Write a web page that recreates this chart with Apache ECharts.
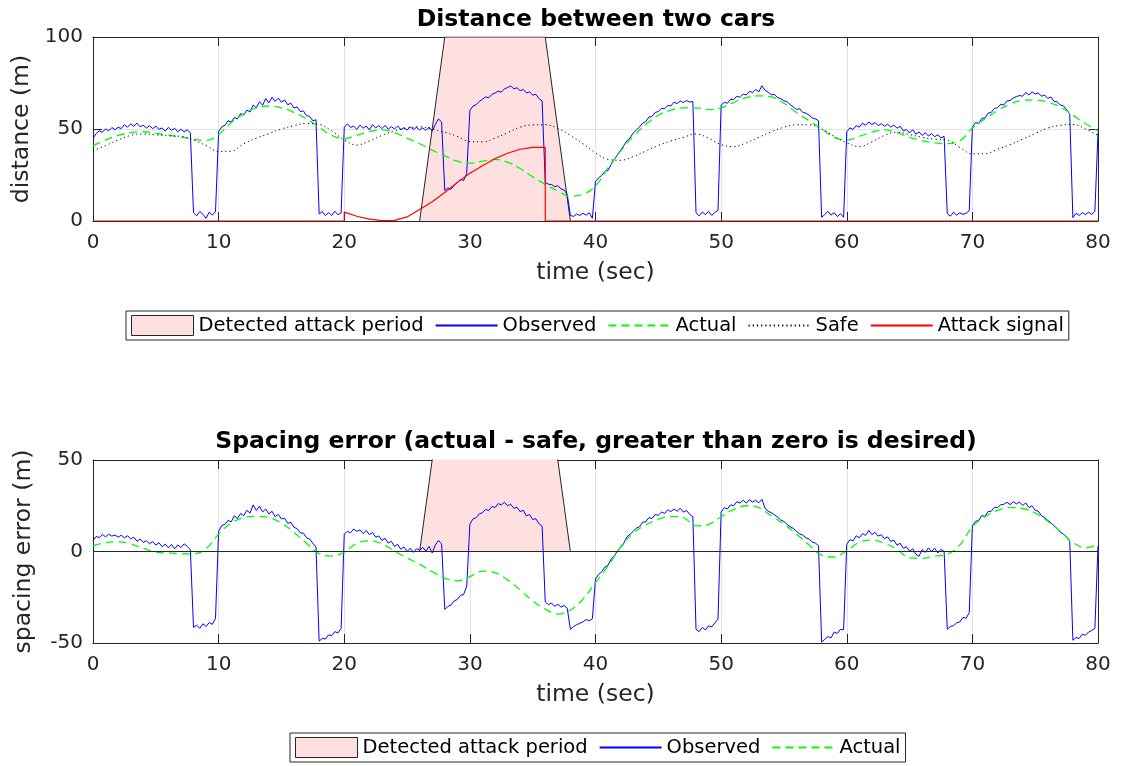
<!DOCTYPE html>
<html>
<head>
<meta charset="utf-8">
<script src="https://cdn.jsdelivr.net/npm/echarts@6/dist/echarts.min.js"></script>
<style>
  html, body { margin: 0; padding: 0; background: #fff; }
  #main { width: 1126px; height: 766px; }
</style>
</head>
<body>
<div id="main"></div>
<script>
var chartDom = document.getElementById('main');
var myChart = echarts.init(chartDom);
var option;

// observed signals, sampled every 0.25 s from 0 to 80 s
var fineStep = 0.25;
var obsDist = [
  45.0, 47.5, 49.0, 48.2, 50.1, 49.0, 50.8, 49.6,
  51.0, 50.2, 52.3, 51.0, 52.8, 51.5, 53.2, 51.2,
  52.0, 50.6, 51.8, 50.2, 51.5, 49.8, 50.6, 48.8,
  50.9, 49.3, 50.4, 48.5, 49.9, 48.4, 49.6, 47.8,
  4.5, 2.8, 5.2, 3.6, 1.5, 4.8, 3.2, 5.0,
  48.5, 51.2, 52.0, 54.5, 53.8, 56.2, 55.5, 58.4,
  57.6, 60.3, 59.2, 63.0, 61.5, 64.8, 62.9, 66.5,
  64.2, 67.3, 65.0, 66.8, 64.5, 65.8, 63.2, 64.0,
  61.4, 62.0, 59.5, 59.8, 57.2, 56.9, 54.5, 55.0,
  3.8, 5.1, 2.9, 4.6, 3.0, 5.3, 3.4, 4.4,
  51.0, 52.8, 50.9, 51.5, 49.8, 52.1, 50.4, 51.6,
  49.5, 52.4, 50.6, 51.9, 50.2, 52.0, 49.9, 51.3,
  50.0, 51.7, 49.6, 50.8, 49.4, 51.2, 49.8, 50.9,
  49.5, 50.6, 49.2, 51.0, 48.8, 52.5, 55.5, 53.8,
  16.5, 18.0, 17.2, 19.5, 20.8, 22.6, 22.0, 26.0,
  60.0, 62.5, 63.2, 65.0, 66.2, 67.4, 67.0, 68.8,
  69.5, 70.6, 70.0, 71.8, 72.5, 73.4, 71.8, 72.4,
  70.8, 71.5, 69.6, 70.2, 68.4, 68.9, 66.5, 65.2,
  21.0, 20.0, 19.8, 18.6, 19.2, 17.5, 16.8, 14.5,
  3.0, 2.5, 3.8, 3.0, 4.2, 3.2, 4.5, 1.5,
  21.5, 23.5, 24.8, 27.0, 27.5, 30.8, 33.5, 36.0,
  38.5, 41.0, 43.6, 45.2, 47.8, 49.5, 51.0, 53.2,
  54.0, 56.5, 56.8, 59.0, 59.5, 61.2, 61.0, 62.8,
  62.5, 64.6, 63.8, 65.2, 64.4, 65.5, 64.6, 65.0,
  4.5, 2.8, 4.9, 3.5, 5.2, 3.0, 4.6, 5.8,
  63.0, 64.5, 64.0, 66.2, 66.0, 67.8, 67.2, 69.0,
  68.5, 70.5, 69.8, 71.5, 70.2, 73.5, 71.0, 70.0,
  68.6, 68.8, 67.0, 66.5, 65.4, 64.8, 63.2, 62.0,
  60.6, 61.0, 59.0, 58.6, 57.5, 56.0, 55.5, 54.5,
  2.0, 3.5, 5.2, 3.2, 4.6, 2.4, 4.0, 2.0,
  48.5, 50.6, 49.8, 51.8, 51.0, 53.2, 52.0, 53.8,
  52.5, 53.5, 51.8, 52.9, 51.5, 52.6, 51.0, 52.2,
  50.4, 51.5, 49.0, 49.8, 47.8, 49.6, 47.2, 48.4,
  46.5, 48.0, 46.2, 47.5, 45.8, 46.9, 45.2, 46.0,
  4.0, 2.6, 4.8, 3.2, 4.5, 3.6, 4.2, 5.6,
  51.0, 53.5, 53.0, 55.8, 56.0, 58.6, 59.0, 61.2,
  61.5, 63.4, 63.0, 65.2, 65.5, 66.8, 67.6, 68.2,
  67.8, 69.8, 68.5, 70.2, 69.0, 69.6, 67.8, 68.5,
  66.6, 67.4, 65.0, 64.8, 63.0, 62.6, 60.5, 58.0,
  1.8, 4.2, 3.0, 4.6, 3.4, 4.8, 3.6, 5.2,
  48.0
];
var obsErr = [
  6.0, 8.2, 7.6, 9.3, 8.0, 9.5, 8.4, 9.0,
  7.8, 8.9, 7.5, 8.6, 6.9, 7.8, 5.6, 6.8,
  5.0, 5.9, 4.2, 5.4, 3.5, 4.8, 2.6, 4.0,
  2.0, 3.8, 1.5, 3.6, 2.2, 4.2, 2.8, 1.0,
  -41.5, -40.2, -42.0, -39.5, -41.0, -38.8, -39.8, -36.5,
  11.0, 14.2, 14.8, 17.0, 16.2, 19.5, 18.0, 20.8,
  19.6, 22.5, 21.0, 25.5, 22.4, 24.8, 21.6, 23.2,
  20.5, 22.0, 19.0, 20.3, 17.8, 18.2, 15.4, 16.0,
  13.2, 12.5, 10.2, 10.0, 7.5, 6.8, 4.5, 2.5,
  -49.0, -47.5, -47.8, -45.6, -46.0, -43.8, -44.5, -42.0,
  9.5, 11.0, 10.2, 12.3, 11.0, 11.8, 9.8, 11.5,
  9.2, 10.4, 7.8, 8.5, 6.0, 7.2, 4.6, 5.5,
  2.8, 3.9, 1.2, 2.5, 0.0, 1.8, -0.5, 1.5,
  0.8, 2.2, 0.2, 2.8, -0.8, 3.5, 6.0, 4.2,
  -31.6, -30.0, -29.2, -27.0, -26.2, -24.0, -23.5, -19.0,
  15.0, 17.8, 18.5, 20.6, 21.2, 23.0, 22.4, 24.6,
  24.0, 26.2, 25.5, 26.9, 25.0, 25.8, 23.6, 24.2,
  21.8, 22.5, 19.5, 20.2, 17.5, 17.9, 15.2, 13.8,
  -27.5, -29.0, -28.2, -30.0, -28.8, -30.4, -29.5, -31.0,
  -42.5, -41.0, -40.0, -39.2, -38.5, -37.2, -37.8, -36.8,
  -15.0, -12.5, -11.0, -8.5, -7.5, -4.0, -2.5, 0.5,
  2.0, 4.5, 8.0, 9.5, 11.0, 12.8, 13.5, 16.0,
  16.2, 18.5, 18.0, 20.2, 19.8, 21.5, 20.8, 22.8,
  21.8, 23.2, 22.0, 23.6, 21.5, 22.4, 20.2, 19.0,
  -42.5, -43.8, -41.5, -42.8, -40.6, -41.2, -39.0, -37.0,
  21.5, 24.0, 23.2, 25.5, 25.0, 27.2, 26.5, 28.0,
  26.5, 28.3, 27.0, 28.0, 26.6, 28.5, 23.5, 22.0,
  21.2, 20.0, 18.8, 17.2, 16.4, 14.8, 13.5, 12.6,
  11.0, 9.6, 9.0, 7.5, 6.8, 5.2, 4.6, 3.2,
  -49.5, -48.0, -46.5, -47.2, -44.0, -44.8, -42.5, -42.8,
  4.0, 6.5, 5.8, 8.6, 7.5, 9.8, 8.8, 11.5,
  9.2, 10.5, 8.4, 9.2, 7.0, 8.0, 5.5, 6.2,
  3.5, 4.5, 1.8, 2.6, 0.2, 1.5, -1.5, -2.6,
  1.0, -0.5, 2.0, 0.0, 1.8, -0.8, 1.2, 0.0,
  -42.5, -41.0, -40.5, -39.0, -38.5, -36.0, -36.5, -33.4,
  14.0, 16.5, 17.0, 19.6, 19.2, 21.8, 22.0, 24.2,
  24.0, 25.5, 25.8, 26.9, 25.6, 27.2, 26.0, 27.0,
  25.2, 26.5, 24.0, 25.0, 22.5, 22.0, 19.5, 18.6,
  17.0, 15.8, 14.0, 12.6, 10.5, 9.6, 7.8, 5.5,
  -48.5, -47.0, -47.5, -45.2, -45.8, -44.0, -43.2, -42.0,
  3.0
];

// smooth signals, one value per second from 0 to 80 s
var actDist = [
  40.8, 44, 46.5, 48, 48.5, 47.7, 46.7, 45.6, 44.5, 43.8,
  47, 53.5, 58.2, 61.5, 62.5, 61.5, 59, 55.5, 51, 46.5,
  44.8, 46.5, 48.6, 49.5, 48, 45, 42, 38.5, 35.5, 32.5,
  31.4, 32.5, 33.5, 32, 28.5, 24, 20, 16.3, 13.5, 14.5,
  19, 29, 38, 46, 52.5, 57.5, 60.3, 61.5, 61.5, 60.5,
  61.5, 64.5, 67, 68, 67.5, 64, 59, 54.5, 50, 45.5,
  44, 46, 48.3, 49.5, 48, 45.5, 43.6, 42.5, 42, 43.5,
  50.5, 55.5, 60, 63.5, 65.5, 65.8, 64.5, 62, 57.5, 53,
  49
];
var safeDist = [
  38.2, 41, 44, 46.5, 47.3, 46.8, 46.3, 46, 44, 41,
  37.8, 38, 42, 45, 47.5, 50, 51.8, 53, 52.5, 49,
  44, 41.3, 43.5, 46.5, 49, 50.5, 51.2, 50, 48.2, 46,
  43.2, 43, 45, 48, 51, 52.2, 52.3, 50.3, 46.5, 42,
  37, 33.5, 33, 35, 38, 41, 43.5, 45.5, 47.3, 45,
  41.5, 40.4, 42.5, 45.5, 48.5, 51, 52.3, 52.3, 50, 46,
  42.5, 40.4, 43, 46.5, 48.3, 47, 45.5, 44.5, 44, 40,
  36.5, 36.5, 39, 41.5, 44.5, 47.5, 50.5, 52, 52.5, 50,
  46.5
];
var actErr = [
  3.1, 4.8, 5.3, 4.2, 1.8, -0.3, -0.8, -1.2, -1.3, 1.5,
  9.5, 15.5, 18.5, 19.2, 18.5, 15.5, 10.5, 4.5, -1.2, -2.5,
  -0.3, 4.5, 5.8, 4.2, 0.2, -3.5, -7, -11, -14.5, -16,
  -13.7, -10.7, -11.5, -15.5, -21, -27, -31.5, -34.2, -32, -26,
  -17, -8, 2.5, 10, 14.5, 17.5, 19.2, 18.5, 14, 14.8,
  19, 23, 25, 24, 19.5, 15, 9.5, 3.5, -2, -3,
  0.5, 5, 6.2, 4.5, 1.2, -3.5, -3.8, -2.5, -1.5, 3.5,
  13.5, 19, 22.5, 24, 23.5, 21, 16.5, 11, 5, 2,
  4
];

// attack signal (time, value)
var atkT = [0, 20, 20, 21, 22, 23, 24, 25, 26, 27, 28, 29, 30, 31, 32, 33, 34, 35, 36, 36, 80];
var atkV = [0, 0, 4.8, 2.6, 1.0, 0.2, 0.3, 2.2, 6.2, 10.5, 15.5, 21, 26, 30, 33.8, 36.8, 39, 40, 40, 0, 0];

// detected attack period patch
var patchT = [26, 28, 36, 38];
var patchV = [0, 100, 100, 0];

function fine(arr) {
  return arr.map(function (v, i) { return [i * fineStep, v]; });
}
function perSecond(arr) {
  return arr.map(function (v, i) { return [i, v]; });
}
function pairs(xs, ys) {
  return xs.map(function (x, i) { return [x, ys[i]]; });
}

var FONT = 'DejaVu Sans';
var AX = '#262626';
var GRIDC = '#e3e3e3';
var PINK = '#ffe0e0';

function xAx(gridIndex, top) {
  return {
    type: 'value', gridIndex: gridIndex, min: 0, max: 80, interval: 10,
    position: top ? 'top' : 'bottom',
    name: top ? '' : 'time (sec)',
    nameLocation: 'middle', nameGap: 40,
    nameTextStyle: { fontFamily: FONT, fontSize: 23.5, color: AX },
    axisLine: { show: true, onZero: false, lineStyle: { color: AX, width: 1 } },
    axisTick: { show: true, inside: true, length: 9, lineStyle: { color: AX } },
    axisLabel: { show: !top, margin: 12, fontFamily: FONT, fontSize: 20, color: AX },
    splitLine: { show: !top, lineStyle: { color: GRIDC, width: 1 } }
  };
}
function yAx(gridIndex, right, min, max, name) {
  return {
    type: 'value', gridIndex: gridIndex, min: min, max: max, interval: 50,
    position: right ? 'right' : 'left',
    name: right ? '' : name,
    nameLocation: 'middle', nameGap: 57,
    nameTextStyle: { fontFamily: FONT, fontSize: 23.5, color: AX },
    axisLine: { show: true, onZero: false, lineStyle: { color: AX, width: 1 } },
    axisTick: { show: true, inside: true, length: 9, lineStyle: { color: AX } },
    axisLabel: { show: !right, margin: 10, fontFamily: FONT, fontSize: 20, color: AX },
    splitLine: { show: !right, lineStyle: { color: GRIDC, width: 1 } }
  };
}

function lineSeries(name, data, xi, yi, style, extra) {
  var s = {
    name: name, type: 'line', data: data,
    xAxisIndex: xi, yAxisIndex: yi,
    symbol: 'none', showSymbol: false,
    lineStyle: style, itemStyle: { color: style.color },
    emphasis: { disabled: true }, clip: true
  };
  for (var k in extra) s[k] = extra[k];
  return s;
}

var obsStyle = { color: '#0000ff', width: 1 };
var actStyle = { color: '#00ff00', width: 1.3, type: [8, 5] };
var safeStyle = { color: '#000000', width: 1, type: [1.2, 3] };
var atkStyle = { color: '#ff0000', width: 1.2 };
var patchStyle = { color: AX, width: 1 };

function patchSeries(xi, yi, withZero) {
  var s = lineSeries('Detected attack period', pairs(patchT, patchV), xi, yi, patchStyle,
    { areaStyle: { color: PINK, opacity: 1 }, z: 1, itemStyle: { color: PINK, borderColor: AX, borderWidth: 1 } });
  if (withZero) {
    s.markLine = {
      silent: true, symbol: 'none', label: { show: false },
      lineStyle: { color: AX, type: 'solid', width: 1.2 },
      data: [{ yAxis: 0 }]
    };
  }
  return s;
}

var legendBase = {
  orient: 'horizontal',
  itemWidth: 62, itemHeight: 20, itemGap: 11,
  padding: [4, 5, 4, 5],
  borderColor: AX, borderWidth: 1, borderRadius: 0,
  backgroundColor: '#fff',
  textStyle: { fontFamily: FONT, fontSize: 19.5, color: '#000' },
  selectedMode: false
};
var patchLegend = { name: 'Detected attack period', icon: 'rect', itemStyle: { color: PINK, borderColor: AX, borderWidth: 1, opacity: 1 } };
function lineLegend(name) {
  return { name: name, itemStyle: { opacity: 0 } };
}

option = {
  animation: false,
  backgroundColor: '#ffffff',
  title: [
    {
      text: 'Distance between two cars',
      left: 596, top: 8, textAlign: 'center', padding: 0,
      textStyle: { fontFamily: FONT, fontSize: 23.5, fontWeight: 'bold', color: '#000' }
    },
    {
      text: 'Spacing error (actual - safe, greater than zero is desired)',
      left: 596, top: 430, textAlign: 'center', padding: 0,
      textStyle: { fontFamily: FONT, fontSize: 23.5, fontWeight: 'bold', color: '#000' }
    }
  ],
  legend: [
    Object.assign({}, legendBase, {
      left: 126, top: 311,
      data: [patchLegend, lineLegend('Observed'), lineLegend('Actual'), lineLegend('Safe'), lineLegend('Attack signal')]
    }),
    Object.assign({}, legendBase, {
      left: 290, top: 733,
      data: [patchLegend, lineLegend('Observed'), lineLegend('Actual')]
    })
  ],
  grid: [
    { left: 93, top: 37, width: 1005, height: 184 },
    { left: 93, top: 460, width: 1005, height: 183 }
  ],
  xAxis: [xAx(0, false), xAx(0, true), xAx(1, false), xAx(1, true)],
  yAxis: [
    yAx(0, false, 0, 100, 'distance (m)'), yAx(0, true, 0, 100, ''),
    yAx(1, false, -50, 50, 'spacing error (m)'), yAx(1, true, -50, 50, '')
  ],
  series: [
    patchSeries(0, 0, false),
    lineSeries('Observed', fine(obsDist), 0, 0, obsStyle, { z: 3 }),
    lineSeries('Actual', perSecond(actDist), 0, 0, actStyle, { z: 4, smooth: 0.4 }),
    lineSeries('Safe', perSecond(safeDist), 0, 0, safeStyle, { z: 4, smooth: 0.4 }),
    lineSeries('Attack signal', pairs(atkT, atkV), 0, 0, atkStyle, { z: 5 }),

    patchSeries(2, 2, true),
    lineSeries('Observed', fine(obsErr), 2, 2, obsStyle, { z: 3 }),
    lineSeries('Actual', perSecond(actErr), 2, 2, actStyle, { z: 4, smooth: 0.4 })
  ]
};

option && myChart.setOption(option);
</script>
</body>
</html>
